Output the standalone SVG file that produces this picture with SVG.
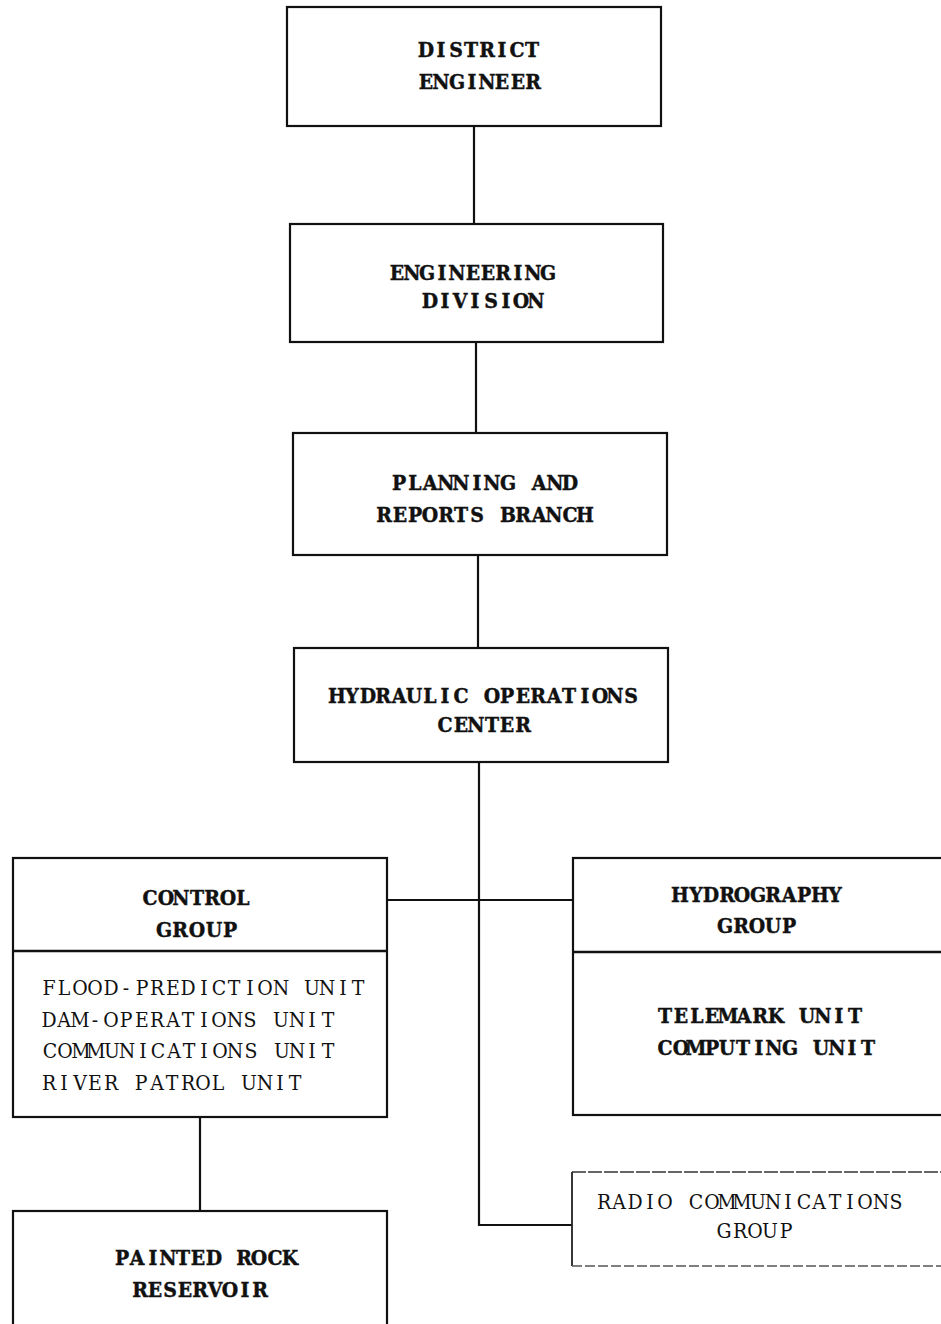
<svg xmlns="http://www.w3.org/2000/svg" width="941" height="1324" viewBox="0 0 941 1324">
<style>
.box{fill:#fff;stroke:#111;stroke-width:2.2}
.div{stroke:#111;stroke-width:2.4}
.con{fill:none;stroke:#111;stroke-width:2.2}
.b{font-family:"DejaVu Serif","Liberation Serif",serif;font-stretch:condensed;font-weight:bold;font-size:21px;fill:#111;stroke:#111;stroke-width:0.4;text-anchor:middle}
.r{font-family:"DejaVu Serif","Liberation Serif",serif;font-stretch:condensed;font-size:21px;fill:#111;text-anchor:middle}
</style>
<rect width="941" height="1324" fill="#fff"/>
<g id="connectors">
<line class="con" x1="474" y1="126" x2="474" y2="224"/>
<line class="con" x1="476" y1="342" x2="476" y2="433"/>
<line class="con" x1="478" y1="555" x2="478" y2="648"/>
<polyline class="con" points="479,762 479,1225 572,1225"/>
<line class="con" x1="387" y1="900" x2="573" y2="900"/>
<line class="con" x1="200" y1="1117" x2="200" y2="1211"/>
</g>
<g id="district-engineer">
<rect class="box" x="287" y="7" width="374" height="119"/>
<text class="b" x="426 441 456 471 487 502 517 532" y="57">DISTRICT</text>
<text class="b" x="426 441 457 472 487 502 518 533" y="89">ENGINEER</text>
</g>
<g id="engineering-division">
<rect class="box" x="290" y="224" width="373" height="118"/>
<text class="b" x="397 412 427 442 457 473 488 503 518 533 548" y="280">ENGINEERING</text>
<text class="b" x="430 445 460 475 491 506 521 536" y="308">DIVISION</text>
</g>
<g id="planning-reports">
<rect class="box" x="293" y="433" width="374" height="122"/>
<text class="b" x="399 415 430 446 461 477 492 508 523 539 555 570" y="490">PLANNING AND</text>
<text class="b" x="384 400 415 430 446 461 477 492 508 523 539 554 570 585" y="522">REPORTS BRANCH</text>
</g>
<g id="hydraulic-operations">
<rect class="box" x="294" y="648" width="374" height="114"/>
<text class="b" x="337 352 368 383 399 414 430 445 461 476 492 507 523 538 554 569 585 600 615 631" y="703">HYDRAULIC OPERATIONS</text>
<text class="b" x="445 461 476 492 507 523" y="732">CENTER</text>
</g>
<g id="control-group">
<rect class="box" x="13" y="858" width="374" height="259"/>
<line class="div" x1="13" y1="951" x2="387" y2="951"/>
<text class="b" x="150 166 181 197 212 228 243" y="905">CONTROL</text>
<text class="b" x="164 180 197 214 230" y="937">GROUP</text>
<text class="r" x="49 64 80 95 111 126 142 157 173 188 204 219 234 250 265 281 296 312 327 343 358" y="995">FLOOD-PREDICTION UNIT</text>
<text class="r" x="49 64 80 95 111 126 142 157 173 188 204 219 235 250 266 281 297 312 328" y="1027">DAM-OPERATIONS UNIT</text>
<text class="r" x="50 65 81 96 112 127 143 158 174 189 204 220 235 251 266 282 297 312 328" y="1058">COMMUNICATIONS UNIT</text>
<text class="r" x="49 64 80 95 111 126 141 157 172 188 203 218 234 249 265 280 295" y="1090">RIVER PATROL UNIT</text>
</g>
<g id="hydrography-group">
<rect class="box" x="573" y="858" width="380" height="257"/>
<line class="div" x1="573" y1="952" x2="941" y2="952"/>
<text class="b" x="680 696 711 727 742 758 773 789 804 820 835" y="902">HYDROGRAPHY</text>
<text class="b" x="725 741 757 773 789" y="933">GROUP</text>
<text class="b" x="665 681 697 712 728 744 760 776 791 807 823 839 855" y="1023">TELEMARK UNIT</text>
<text class="b" x="665 681 696 712 727 743 759 774 790 805 821 837 852 868" y="1055">COMPUTING UNIT</text>
</g>
<g id="radio-communications">
<line x1="572" y1="1172" x2="941" y2="1172" stroke="#333" stroke-width="1.5" stroke-dasharray="14 2"/>
<line x1="572" y1="1172" x2="572" y2="1266" stroke="#222" stroke-width="1.8"/>
<line x1="572" y1="1266" x2="941" y2="1266" stroke="#555" stroke-width="1.3" stroke-dasharray="10 3"/>
<text class="r" x="604 619 635 650 665 681 696 712 727 742 758 773 788 804 819 835 850 865 881 896" y="1209">RADIO COMMUNICATIONS</text>
<text class="r" x="724 740 755 770 786" y="1238">GROUP</text>
</g>
<g id="painted-rock-reservoir">
<rect class="box" x="13" y="1211" width="374" height="130"/>
<text class="b" x="122 137 153 168 183 198 214 229 244 259 275 290" y="1265">PAINTED ROCK</text>
<text class="b" x="140 155 170 185 200 215 230 245 260" y="1297">RESERVOIR</text>
</g>
</svg>
